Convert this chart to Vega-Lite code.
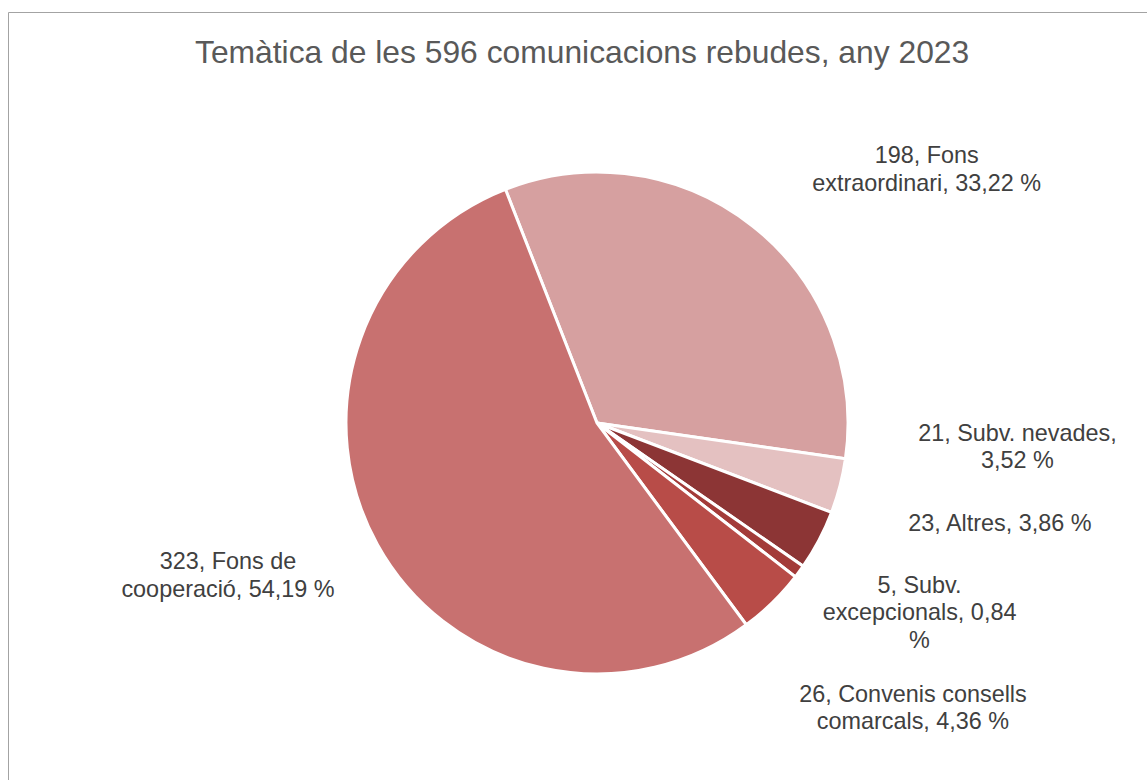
{
  "$schema": "https://vega.github.io/schema/vega-lite/v6.json",
  "autosize": {"type": "none"},
  "padding": {"left": 8, "top": 12, "right": -3, "bottom": -3},
  "width": 1142,
  "height": 771,
  "background": "white",
  "view": {"stroke": "#A3A3A3", "strokeWidth": 1, "fill": "white"},
  "title": {
    "text": "Temàtica de les 596 comunicacions rebudes, any 2023",
    "font": "Liberation Sans",
    "fontSize": 31.8,
    "fontWeight": "normal",
    "color": "#595959",
    "anchor": "start",
    "baseline": "alphabetic",
    "offset": -83.2,
    "dx": 187
  },
  "data": {
    "values": [
      {"ordre": 1, "categoria": "Fons extraordinari", "comunicacions": 198, "etiqueta": ["198, Fons", "extraordinari, 33,22 %"]},
      {"ordre": 2, "categoria": "Subv. nevades", "comunicacions": 21, "etiqueta": ["21, Subv. nevades,", "3,52 %"]},
      {"ordre": 3, "categoria": "Altres", "comunicacions": 23, "etiqueta": ["23, Altres, 3,86 %"]},
      {"ordre": 4, "categoria": "Subv. excepcionals", "comunicacions": 5, "etiqueta": ["5, Subv.", "excepcionals, 0,84", "%"]},
      {"ordre": 5, "categoria": "Convenis consells comarcals", "comunicacions": 26, "etiqueta": ["26, Convenis consells", "comarcals, 4,36 %"]},
      {"ordre": 6, "categoria": "Fons de cooperació", "comunicacions": 323, "etiqueta": ["323, Fons de", "cooperació, 54,19 %"]}
    ]
  },
  "encoding": {
    "theta": {"field": "comunicacions", "type": "quantitative", "stack": true, "scale": {"range": [-0.3735, 5.9097]}},
    "order": {"field": "ordre", "type": "quantitative"}
  },
  "layer": [
    {
      "mark": {"type": "arc", "outerRadius": 251, "stroke": "white", "strokeWidth": 3, "x": 589, "y": 411},
      "encoding": {
        "color": {
          "field": "categoria",
          "type": "nominal",
          "legend": null,
          "scale": {
            "domain": ["Fons extraordinari", "Subv. nevades", "Altres", "Subv. excepcionals", "Convenis consells comarcals", "Fons de cooperació"],
            "range": ["#D6A0A0", "#E4C1C1", "#8C3535", "#A33B39", "#B84C48", "#C87170"]
          }
        }
      }
    },
    {
      "mark": {"type": "text", "radius": 250, "x": 589, "y": 411, "dx": 174.4, "dy": -63.8, "align": "center", "baseline": "alphabetic", "font": "Liberation Sans", "fontSize": 23.4, "lineHeight": 27.6, "color": "#404040"},
      "encoding": {"text": {"condition": {"test": "datum.categoria === 'Fons extraordinari'", "field": "etiqueta"}, "value": ""}}
    },
    {
      "mark": {"type": "text", "radius": 250, "x": 589, "y": 411, "dx": 178.5, "dy": -44.9, "align": "center", "baseline": "alphabetic", "font": "Liberation Sans", "fontSize": 23.4, "lineHeight": 27.6, "color": "#404040"},
      "encoding": {"text": {"condition": {"test": "datum.categoria === 'Subv. nevades'", "field": "etiqueta"}, "value": ""}}
    },
    {
      "mark": {"type": "text", "radius": 250, "x": 589, "y": 411, "dx": 181.8, "dy": -8.9, "align": "center", "baseline": "alphabetic", "font": "Liberation Sans", "fontSize": 23.4, "lineHeight": 27.6, "color": "#404040"},
      "encoding": {"text": {"condition": {"test": "datum.categoria === 'Altres'", "field": "etiqueta"}, "value": ""}}
    },
    {
      "mark": {"type": "text", "radius": 250, "x": 589, "y": 411, "dx": 121, "dy": 22.1, "align": "center", "baseline": "alphabetic", "font": "Liberation Sans", "fontSize": 23.4, "lineHeight": 27.3, "color": "#404040"},
      "encoding": {"text": {"condition": {"test": "datum.categoria === 'Subv. excepcionals'", "field": "etiqueta"}, "value": ""}}
    },
    {
      "mark": {"type": "text", "radius": 250, "x": 589, "y": 411, "dx": 141.2, "dy": 100, "align": "center", "baseline": "alphabetic", "font": "Liberation Sans", "fontSize": 23.4, "lineHeight": 27.4, "color": "#404040"},
      "encoding": {"text": {"condition": {"test": "datum.categoria === 'Convenis consells comarcals'", "field": "etiqueta"}, "value": ""}}
    },
    {
      "mark": {"type": "text", "radius": 250, "x": 589, "y": 411, "dx": -150.2, "dy": 25.3, "align": "center", "baseline": "alphabetic", "font": "Liberation Sans", "fontSize": 23.4, "lineHeight": 27.4, "color": "#404040"},
      "encoding": {"text": {"condition": {"test": "datum.categoria === 'Fons de cooperació'", "field": "etiqueta"}, "value": ""}}
    }
  ]
}
